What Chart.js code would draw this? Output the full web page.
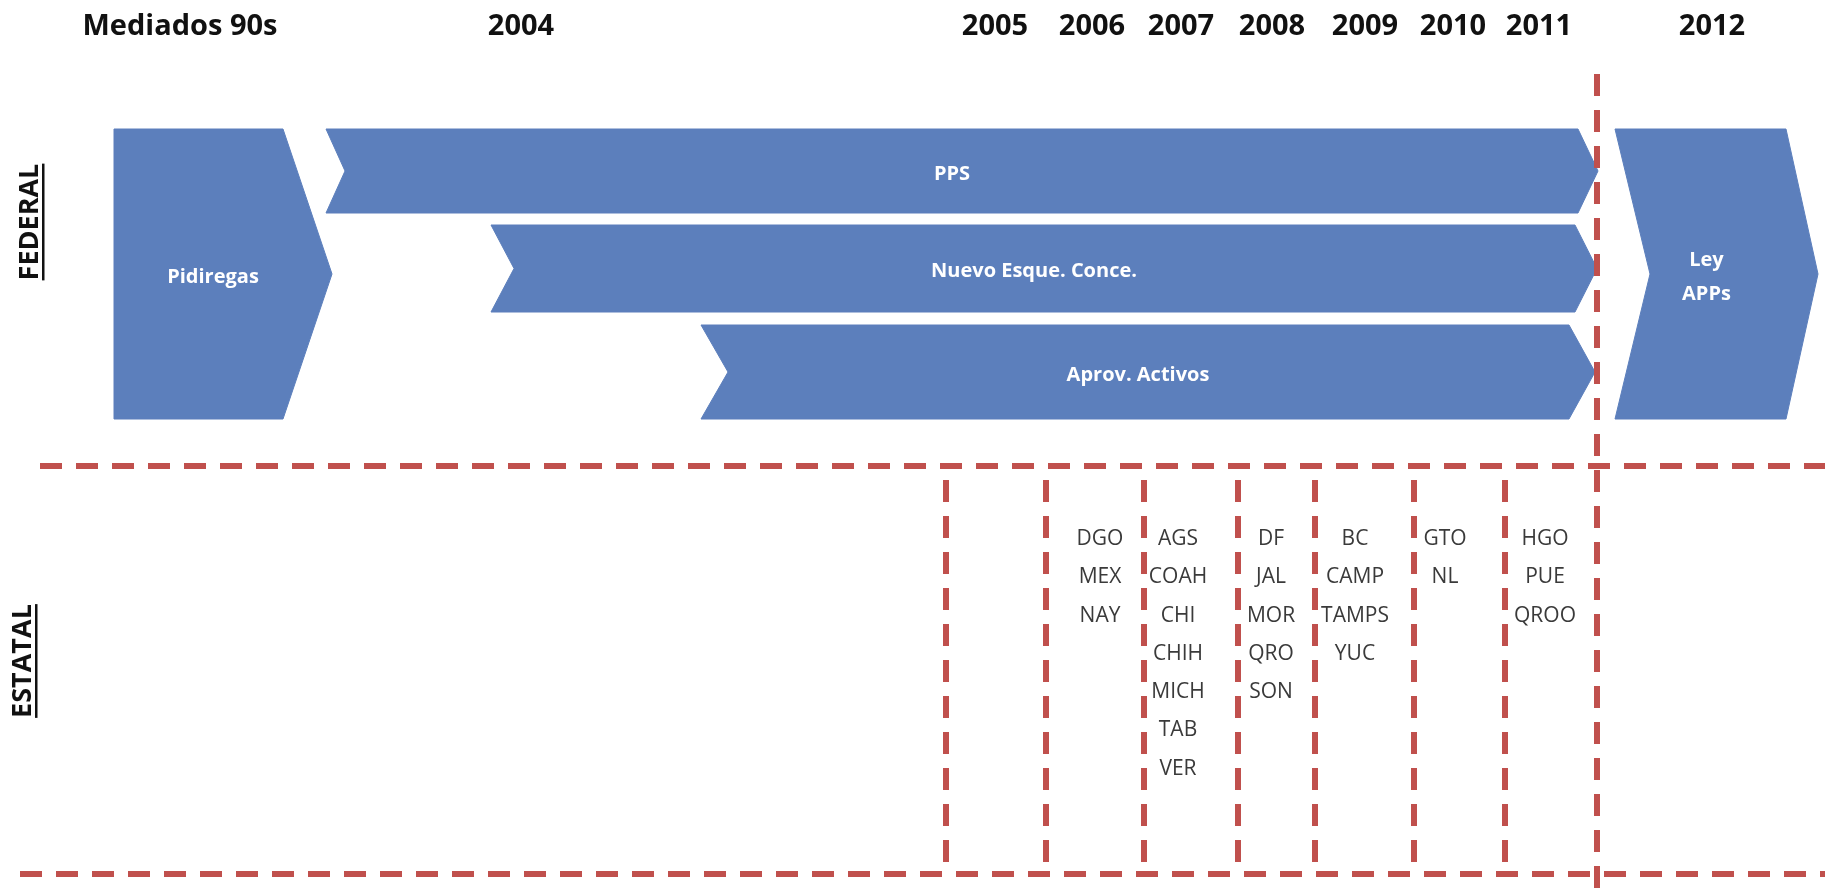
<!DOCTYPE html>
<html>
<head>
<meta charset="utf-8">
<title>Esquemas APP - linea de tiempo</title>
<script src="https://cdn.jsdelivr.net/npm/chart.js@4.4.1/dist/chart.umd.min.js"></script>
<style>
  html, body { margin: 0; padding: 0; background: #fff; overflow: hidden; }
  #wrap { width: 1825px; height: 892px; }
</style>
</head>
<body>
<div id="wrap"><canvas id="myChart" width="1825" height="892"></canvas></div>
<script>
// timeline along the top (x = position on the timeline)
var periodLabels = ['Mediados 90s', '2004', '2005', '2006', '2007', '2008', '2009', '2010', '2011', '2012']
var periodPos = [180, 521, 995, 1092, 1181, 1272, 1365, 1453, 1539, 1712]

// federal schemes, drawn as chevrons
var schemeNames = ['Pidiregas', 'PPS', 'Nuevo Esque. Conce.', 'Aprov. Activos', 'Ley\nAPPs']
var schemeStart = [114, 326, 491, 701, 1615]
var schemeEnd = [332, 1598, 1597, 1595, 1818]
var schemeTop = [129, 129, 225, 325, 129]
var schemeBottom = [419, 213, 312, 419, 419]
var schemeNotch = [0, 19, 23, 27, 35]
var schemeHead = [49, 20, 22, 26, 32]

// states, one column per year 2006..2011
var stateColPos = [1100, 1178, 1271, 1355, 1445, 1545]
var stateCols = [
  ['DGO', 'MEX', 'NAY'],
  ['AGS', 'COAH', 'CHI', 'CHIH', 'MICH', 'TAB', 'VER'],
  ['DF', 'JAL', 'MOR', 'QRO', 'SON'],
  ['BC', 'CAMP', 'TAMPS', 'YUC'],
  ['GTO', 'NL'],
  ['HGO', 'PUE', 'QROO']
]

// dashed separators
var yearDividers = [946, 1046, 1144, 1238, 1315, 1414, 1505]
var lawDivider = 1597
var bandLines = [466, 874]

var BLUE = '#5c7fbc'
var RED = '#c0504d'
var FONT = '"Open Sans", "DejaVu Sans", sans-serif'

function chevron(i) {
  var s = schemeStart[i], e = schemeEnd[i], t = schemeTop[i], b = schemeBottom[i]
  var m = (t + b) / 2, h = schemeHead[i]
  return [
    {x: s, y: t}, {x: e - h, y: t}, {x: e, y: m}, {x: e - h, y: b},
    {x: s, y: b}, {x: s + schemeNotch[i], y: m}, {x: s, y: t}
  ]
}

function dashed(points) {
  return {
    data: points,
    showLine: true,
    fill: false,
    borderColor: RED,
    borderWidth: 6,
    borderDash: [22, 14],
    borderCapStyle: 'butt',
    pointRadius: 0,
    order: 0
  }
}

var datasets = []
schemeNames.forEach(function (n, i) {
  datasets.push({
    data: chevron(i),
    showLine: true,
    fill: 'shape',
    backgroundColor: BLUE,
    borderColor: BLUE,
    borderWidth: 1,
    borderJoinStyle: 'miter',
    pointRadius: 0,
    order: 1
  })
})
datasets.push(dashed([{x: 40, y: bandLines[0]}, {x: 1825, y: bandLines[0]}]))
datasets.push(dashed([{x: 20, y: bandLines[1]}, {x: 1825, y: bandLines[1]}]))
yearDividers.forEach(function (d) {
  datasets.push(dashed([{x: d, y: 480}, {x: d, y: 870}]))
})
datasets.push(dashed([{x: lawDivider, y: 74}, {x: lawDivider, y: 892}]))

var textPlugin = {
  id: 'texts',
  afterDatasetsDraw: function (chart) {
    var ctx = chart.ctx, sx = chart.scales.x, sy = chart.scales.y
    ctx.save()
    ctx.textAlign = 'center'
    ctx.textBaseline = 'middle'

    // timeline header
    ctx.fillStyle = '#111'
    ctx.font = 'bold 29px ' + FONT
    periodLabels.forEach(function (lab, i) {
      ctx.fillText(lab, sx.getPixelForValue(periodPos[i]), sy.getPixelForValue(27))
    })

    // scheme names inside chevrons
    ctx.fillStyle = '#ffffff'
    ctx.font = 'bold 20px ' + FONT
    schemeNames.forEach(function (n, i) {
      var cx = (schemeStart[i] + schemeEnd[i]) / 2 - 10
      var cy = (schemeTop[i] + schemeBottom[i]) / 2 + 3
      var lines = n.split('\n')
      lines.forEach(function (l, k) {
        var ly = cy + (k - (lines.length - 1) / 2) * 34
        ctx.fillText(l, sx.getPixelForValue(cx), sy.getPixelForValue(ly))
      })
    })

    // states
    ctx.fillStyle = '#3a3a3a'
    ctx.font = '21px ' + FONT
    stateCols.forEach(function (col, c) {
      col.forEach(function (st, r) {
        ctx.fillText(st, sx.getPixelForValue(stateColPos[c]), sy.getPixelForValue(539 + r * 38.3))
      })
    })

    // side labels, rotated and underlined
    function sideLabel(txt, x, y) {
      ctx.save()
      ctx.translate(sx.getPixelForValue(x), sy.getPixelForValue(y))
      ctx.rotate(-Math.PI / 2)
      ctx.font = 'bold 27px ' + FONT
      ctx.fillStyle = '#111'
      ctx.fillText(txt, 0, 0)
      var w = ctx.measureText(txt).width
      ctx.fillRect(-w / 2, 12, w, 2.5)
      ctx.restore()
    }
    sideLabel('FEDERAL', 30, 222)
    sideLabel('ESTATAL', 23, 661)
    ctx.restore()
  }
}

var ctx = document.getElementById('myChart').getContext('2d')
var chart = new Chart(ctx, {
  type: 'scatter',
  data: { datasets: datasets },
  options: {
    responsive: false,
    animation: false,
    layout: { padding: 0 },
    plugins: { legend: { display: false }, tooltip: { enabled: false } },
    scales: {
      x: { type: 'linear', min: 0, max: 1825, display: false },
      y: { type: 'linear', min: 0, max: 892, reverse: true, display: false }
    }
  },
  plugins: [textPlugin]
})
</script>
</body>
</html>
